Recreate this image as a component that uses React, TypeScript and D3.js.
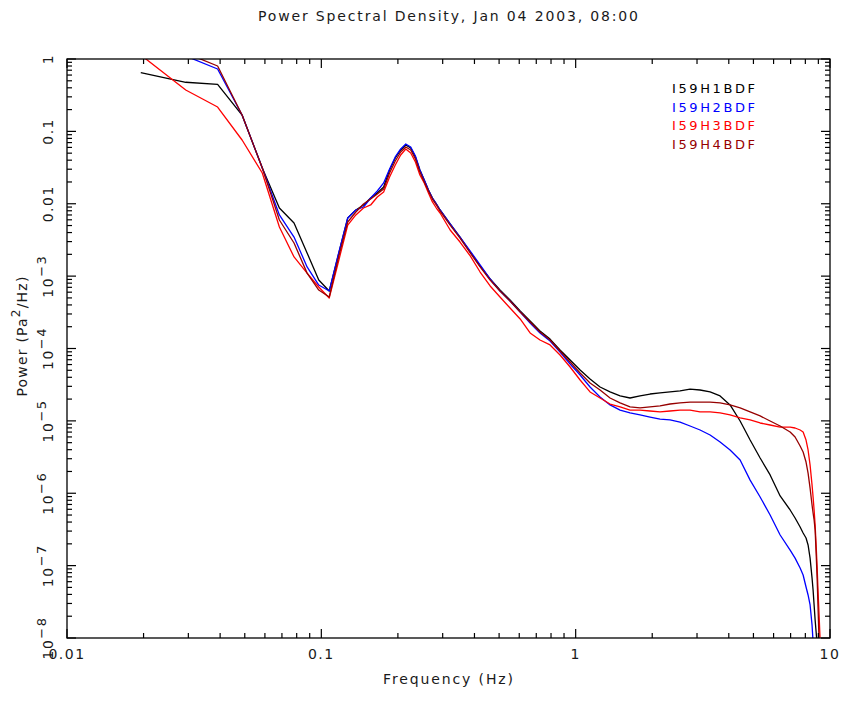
import React from "react";
import * as d3 from "d3";

// Frequencies (Hz), shared by all four sensors
const freqs = [
  0.0195, 0.0293, 0.0391, 0.0488, 0.0586, 0.0684, 0.0781, 0.0879, 0.0977, 0.1074,
  0.1172, 0.127, 0.1367, 0.1465, 0.1563, 0.166, 0.1758, 0.1855, 0.1953, 0.2051,
  0.2148, 0.2246, 0.2344, 0.2441, 0.2539, 0.2637, 0.2734, 0.2832, 0.293,
  0.321, 0.351, 0.385, 0.421, 0.461, 0.504, 0.552, 0.605, 0.662, 0.724,
  0.793, 0.868, 0.951, 1.041, 1.139, 1.247, 1.365, 1.495, 1.636, 1.791,
  1.961, 2.147, 2.35, 2.573, 2.817, 3.084, 3.377, 3.697, 4.047, 4.432,
  4.852, 5.312, 5.815, 6.367, 6.97, 7.29, 7.63, 7.84, 8.05, 8.2,
  8.35, 8.5, 8.58, 8.66, 8.74, 8.82, 8.9, 8.98, 9.06, 9.15,
];

const powerH1 = [
  0.647, 0.477, 0.447, 0.168, 0.0312, 0.00873, 0.00542, 0.00209, 0.000883, 0.000622,
  0.00209, 0.00635, 0.0082, 0.00962, 0.012, 0.0141, 0.017, 0.0293, 0.0429, 0.0553,
  0.0648, 0.0589, 0.0443, 0.0293, 0.0213, 0.0155, 0.012, 0.00993, 0.0082,
  0.00525, 0.00347, 0.00215, 0.00138, 0.000912, 0.000643, 0.000468, 0.00033, 0.00024, 0.000175,
  1.35e-4, 9.53e-5, 6.93e-5, 5.05e-5, 3.79e-5, 2.94e-5, 2.51e-5, 2.21e-5, 2.07e-5, 2.21e-5,
  2.35e-5, 2.43e-5, 2.51e-5, 2.59e-5, 2.75e-5, 2.67e-5, 2.51e-5, 2.21e-5, 1.66e-5, 9.96e-6,
  5.44e-6, 3.07e-6, 1.79e-6, 9.17e-7, 5.87e-7, 4.55e-7, 3.42e-7, 2.82e-7, 2.41e-7, 1.93e-7,
  1.27e-7, 6.75e-8, 4.6e-8, 2.86e-8, 1.77e-8, 1.21e-8, 8.0e-9, null, null, null,
];

const powerH2 = [
  2.01, 1.1, 0.727, 0.168, 0.0312, 0.007, 0.00347, 0.00134, 0.000753, 0.000622,
  0.00215, 0.00635, 0.0082, 0.00902, 0.012, 0.015, 0.0194, 0.0302, 0.0443, 0.0571,
  0.0669, 0.0608, 0.0457, 0.0293, 0.0213, 0.0155, 0.012, 0.00993, 0.0082,
  0.00525, 0.00347, 0.00222, 0.00143, 0.000912, 0.000622, 0.000453, 0.000319, 0.000225, 0.000164,
  1.27e-4, 8.95e-5, 6.11e-5, 4.3e-5, 2.94e-5, 2.14e-5, 1.66e-5, 1.41e-5, 1.29e-5, 1.21e-5,
  1.13e-5, 1.06e-5, 1.03e-5, 9.64e-6, 8.49e-6, 7.48e-6, 6.38e-6, 5.11e-6, 3.96e-6, 2.88e-6,
  1.52e-6, 8.88e-7, 5.0e-7, 2.65e-7, 1.64e-7, 1.27e-7, 9.27e-8, 7.42e-8, 5.07e-8, 3.93e-8,
  2.86e-8, 1.51e-8, 8.8e-9, null, null, null, null, null, null, null,
];

const powerH3 = [
  1.136, 0.373, 0.217, 0.076, 0.0266, 0.00477, 0.00184, 0.0011, 0.000708, 0.000499,
  0.00167, 0.00508, 0.007, 0.00873, 0.00962, 0.0124, 0.0145, 0.0234, 0.0343, 0.0472,
  0.0571, 0.0503, 0.0378, 0.025, 0.0194, 0.0141, 0.0106, 0.00873, 0.00745,
  0.00434, 0.00296, 0.0019, 0.00114, 0.000731, 0.000515, 0.000363, 0.000256, 0.000164, 0.000131,
  1.12e-4, 8.13e-5, 5.55e-5, 3.67e-5, 2.51e-5, 2.07e-5, 1.71e-5, 1.56e-5, 1.41e-5, 1.41e-5,
  1.37e-5, 1.33e-5, 1.37e-5, 1.41e-5, 1.41e-5, 1.33e-5, 1.33e-5, 1.29e-5, 1.21e-5, 1.1e-5,
  1.03e-5, 9.35e-6, 8.77e-6, 8.22e-6, 8.22e-6, 7.97e-6, 7.48e-6, 7.02e-6, 5.44e-6, 3.96e-6,
  2.45e-6, 1.3e-6, 8.88e-7, 5.87e-7, 3.64e-7, 1.93e-7, 9.57e-8, 4.19e-8, 2.08e-8, 8.8e-9,
];

const powerH4 = [
  2.52, 1.21, 0.8, 0.168, 0.0312, 0.00596, 0.00287, 0.0011, 0.000643, 0.000515,
  0.0019, 0.0056, 0.00769, 0.00993, 0.0116, 0.0136, 0.016, 0.0266, 0.039, 0.0519,
  0.0608, 0.0553, 0.0415, 0.0275, 0.02, 0.015, 0.0116, 0.00962, 0.00794,
  0.00508, 0.00336, 0.00209, 0.00134, 0.000883, 0.000622, 0.000453, 0.000319, 0.000232, 0.000169,
  1.31e-4, 9.23e-5, 6.5e-5, 4.58e-5, 3.34e-5, 2.67e-5, 2.07e-5, 1.77e-5, 1.56e-5, 1.51e-5,
  1.56e-5, 1.61e-5, 1.71e-5, 1.77e-5, 1.82e-5, 1.82e-5, 1.82e-5, 1.77e-5, 1.66e-5, 1.51e-5,
  1.33e-5, 1.17e-5, 9.96e-6, 8.49e-6, 7.02e-6, 5.98e-6, 4.5e-6, 3.72e-6, 2.7e-6, 1.9e-6,
  1.18e-6, 6.88e-7, 5.34e-7, 4.27e-7, 3.1e-7, 1.49e-7, 6.75e-8, 2.44e-8, 8.8e-9, null,
];

const seriesNames = ["I59H1BDF", "I59H2BDF", "I59H3BDF", "I59H4BDF"];
const seriesColors = ["#000000", "#0000ff", "#ff0000", "#960000"];
const seriesValues = [powerH1, powerH2, powerH3, powerH4];

const xTickValues = [0.01, 0.1, 1, 10];
const xTickLabels = ["0.01", "0.1", "1", "10"];
const yTickValues = [1, 0.1, 0.01, 1e-3, 1e-4, 1e-5, 1e-6, 1e-7, 1e-8];
const yTickLabels = ["1", "0.1", "0.01", "10^-3", "10^-4", "10^-5", "10^-6", "10^-7", "10^-8"];

const titleText = "Power Spectral Density, Jan 04 2003, 08:00";
const xTitle = "Frequency (Hz)";

const W = 841;
const H = 702;
const L = 67, R = 830, T = 59, B = 638;
const FONT = "'DejaVu Sans', sans-serif";
const TXT = "#1a1a1a";

export default function App() {
  const x = d3.scaleLog().domain([0.01, 10]).range([L, R]);
  const y = d3.scaleLog().domain([1e-8, 1]).range([B, T]);

  const xTicks = x.ticks();
  const yTicks = y.ticks();
  const isMajor = (v: number) => Math.abs(Math.log10(v) - Math.round(Math.log10(v))) < 1e-6;

  const line = d3
    .line<[number, number | null]>()
    .defined((d) => d[1] != null)
    .x((d) => x(d[0]))
    .y((d) => y(d[1] as number));

  return (
    <svg
      width={W}
      height={H}
      style={{ position: "absolute", left: 0, top: 0, background: "#fff" }}
      fontFamily={FONT}
    >
      <rect x={0} y={0} width={W} height={H} fill="#fff" />
      <defs>
        <clipPath id="plotclip">
          <rect x={L} y={T} width={R - L} height={B - T} />
        </clipPath>
      </defs>

      <text x={448} y={21} textAnchor="middle" fontSize={14} fill={TXT} textLength={380} lengthAdjust="spacing">
        {titleText}
      </text>

      <g clipPath="url(#plotclip)">
        {seriesValues.map((vals, i) => (
          <path
            key={seriesNames[i]}
            d={line(freqs.map((f, j) => [f, vals[j]] as [number, number | null])) || ""}
            fill="none"
            stroke={seriesColors[i]}
            strokeWidth={1.3}
            strokeLinejoin="round"
          />
        ))}
      </g>

      {/* frame */}
      <rect x={L} y={T} width={R - L} height={B - T} fill="none" stroke="#000" strokeWidth={1.3} />

      {/* x ticks bottom & top */}
      {xTicks.map((t, i) => {
        const len = isMajor(t) ? 9 : 5;
        const px = x(t);
        return (
          <g key={"xt" + i} stroke="#000" strokeWidth={1.2}>
            <line x1={px} x2={px} y1={B} y2={B - len} />
            <line x1={px} x2={px} y1={T} y2={T + len} />
          </g>
        );
      })}
      {/* y ticks left & right */}
      {yTicks.map((t, i) => {
        const len = isMajor(t) ? 9 : 5;
        const py = y(t);
        return (
          <g key={"yt" + i} stroke="#000" strokeWidth={1.2}>
            <line x1={L} x2={L + len} y1={py} y2={py} />
            <line x1={R} x2={R - len} y1={py} y2={py} />
          </g>
        );
      })}

      {/* x tick labels */}
      {xTickValues.map((v, i) => (
        <text
          key={"xl" + i}
          x={x(v)}
          y={659}
          textAnchor="middle"
          fontSize={14}
          letterSpacing={1.5}
          fill={TXT}
        >
          {xTickLabels[i]}
        </text>
      ))}

      {/* y tick labels (rotated) */}
      {yTickValues.map((v, i) => {
        const lab = yTickLabels[i];
        const parts = lab.split("^");
        return (
          <text
            key={"yl" + i}
            transform={`translate(53,${y(v)}) rotate(-90)`}
            textAnchor="middle"
            fontSize={14}
            letterSpacing={1.5}
            fill={TXT}
          >
            {parts[0]}
            {parts.length > 1 && (
              <tspan dy={-7} fontSize={13}>
                {parts[1].replace("-", "\u2212")}
              </tspan>
            )}
          </text>
        );
      })}

      {/* axis titles */}
      <text x={448} y={684} textAnchor="middle" fontSize={14} fill={TXT} textLength={130} lengthAdjust="spacing">
        {xTitle}
      </text>
      <text
        transform={`translate(27,${336}) rotate(-90)`}
        textAnchor="middle"
        fontSize={14}
        fill={TXT}
        letterSpacing={1.2}
      >
        Power (Pa<tspan dy={-7} fontSize={12}>2</tspan>
        <tspan dy={7}>/Hz)</tspan>
      </text>

      {/* legend */}
      {seriesNames.map((n, i) => (
        <text
          key={"lg" + i}
          x={672}
          y={93 + i * 18.5}
          fontSize={13}
          fill={seriesColors[i]}
          textLength={83}
          lengthAdjust="spacing"
        >
          {n}
        </text>
      ))}
    </svg>
  );
}
